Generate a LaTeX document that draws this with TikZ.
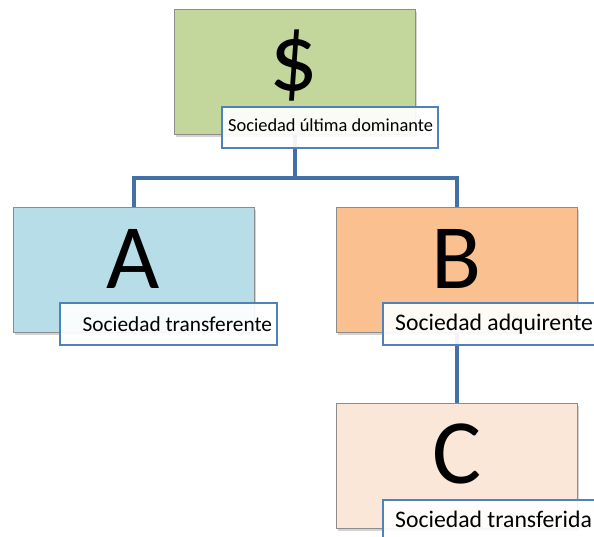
\documentclass[tikz,border=0pt]{standalone}
\usepackage{fontspec}
\setmainfont{Carlito}
\usetikzlibrary{shadows,backgrounds}

\definecolor{boxgreen}{HTML}{C3D69B}
\definecolor{boxblue}{HTML}{B7DDE8}
\definecolor{boxorange}{HTML}{FAC090}
\definecolor{boxpeach}{HTML}{FBE7D8}
\definecolor{linkblue}{HTML}{4470A8}
\definecolor{tagblue}{HTML}{4F81BD}
\definecolor{edgegrey}{HTML}{8C8C8C}

\tikzset{
  entity/.style={draw=edgegrey, line width=0.8pt, minimum width=241pt,
    minimum height=125pt, inner sep=0pt,
    drop shadow={opacity=0.35, shadow xshift=2pt, shadow yshift=-3pt}},
  tag/.style={draw=tagblue, line width=1.1pt, fill=white, fill opacity=0.92,
    inner sep=0pt, minimum height=42pt, minimum width=217pt},
  letter/.style={font=\fontsize{92}{92}\selectfont, anchor=base, inner sep=0pt},
  tagtext/.style={font=\fontsize{23.7}{23.7}\selectfont, anchor=base west, inner sep=0pt},
  smalltext/.style={tagtext, font=\fontsize{21.3}{21.3}\selectfont},
  toptext/.style={tagtext, font=\fontsize{18.4}{18.4}\selectfont},
  link/.style={draw=linkblue, line width=4pt}
}

\begin{document}
\begin{tikzpicture}[x=1pt,y=-1pt]
\useasboundingbox (0,0) rectangle (594,537);
\clip (0,0) rectangle (594,537);

% company boxes
\node[entity, fill=boxgreen]  (top) at (294.5,72)    {};
\node[entity, fill=boxblue]   (A)   at (133.5,269.5) {};
\node[entity, fill=boxorange] (B)   at (456.5,269.5) {};
\node[entity, fill=boxpeach]  (C)   at (456.5,465.5) {};

% big letters
\node[letter, font=\fontsize{96}{96}\selectfont] (topL) at (294,91) {\$};
\node[letter] (AL)   at (133,288) {A};
\node[letter] (BL)   at (457,288) {B};
\node[letter] (CL)   at (457,483) {C};

% caption tags
\node[tag, minimum width=216pt, minimum height=41pt] (topT) at (330,127.5) {};
\node[tag] (AT) at (168.5,324)   {};
\node[tag] (BT) at (491.5,324)   {};
\node[tag] (CT) at (491.5,521)   {};

\node[toptext]   (topX) at (228,132)   {Sociedad última dominante};
\node[smalltext] (AX)   at (82.5,331)  {Sociedad transferente};
\node[tagtext]   (BX)   at (395,330)   {Sociedad adquirente};
\node[tagtext]   (CX)   at (395,527.5) {Sociedad transferida};

% ownership links
\begin{scope}[on background layer]
  \draw[link] (top.south) -- ++(0,43) -| (A.north);
  \draw[link] (top.south) -- ++(0,43) -| (B.north);
  \draw[link] (B.south) -- (C.north);
\end{scope}
\end{tikzpicture}
\end{document}
